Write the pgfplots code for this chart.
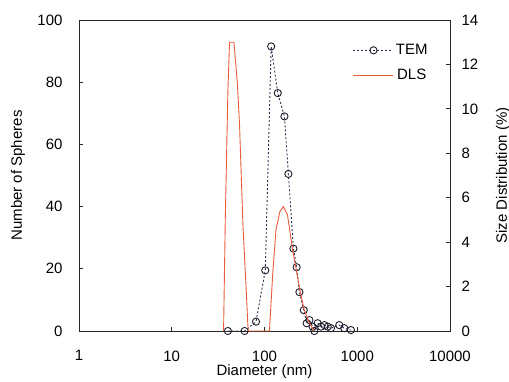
\documentclass[border=0pt]{standalone}
\usepackage{fontspec}
\setmainfont{Liberation Sans}
\usepackage{pgfplots}
\pgfplotsset{compat=1.18}
\definecolor{dls}{RGB}{232,92,60}
\definecolor{tem}{RGB}{40,48,80}
\definecolor{temmark}{RGB}{30,30,45}
\newcommand{\fs}{\fontsize{15}{18}\selectfont}
\begin{document}
\begin{tikzpicture}
\path[use as bounding box] (-79pt,-50pt) rectangle (430pt,331pt);
\begin{axis}[
  scale only axis, width=371pt, height=311pt,
  xmode=log, xmin=1, xmax=10000, ymin=0, ymax=100,
  xtick={1,10,100,1000,10000}, xticklabels={1,10,100,1000,10000}, xminorticks=false,
  ytick={0,20,...,100},
  ytick pos=left, xtick pos=bottom, tick align=inside,
  major tick length=4pt,
  axis line style={black!85, line width=0.8pt},
  tick style={black!85, line width=0.8pt},
  /pgf/number format/assume math mode=true,
  tick label style={font=\fs},
  yticklabel style={xshift=-13pt},
  xticklabel style={yshift=-16pt},
  xlabel={Diameter (nm)}, ylabel={Number of Spheres},
  xlabel style={font=\fs, at={(axis description cs:0.5,0)}, anchor=center, yshift=-41pt},
  ylabel style={font=\fs, at={(axis description cs:0,0.5)}, anchor=center, yshift=61pt},
]
\addplot[color=tem, dash pattern=on 2pt off 2pt, line width=0.9pt, mark=o, mark size=3.6pt, mark options={solid, draw=temmark, line width=0.9pt}] table {
x y
40.3 0
61 0
81 3
102 19.5
118 91.5
139 76.5
164 69
181 50.5
205 26.5
222 20.5
238 12.5
265 6.7
285 2.5
305 3.5
330 1.4
345 0
374 2.5
407 1.4
442 1.9
480 1.4
521 0.9
640 1.9
724 0.9
855 0.3
};
\end{axis}
\begin{axis}[
  scale only axis, width=371pt, height=311pt,
  xmode=log, xmin=1, xmax=10000, ymin=0, ymax=14,
  axis x line=none, axis y line*=right,
  ytick={0,2,...,14}, tick align=inside, major tick length=4pt,
  axis line style={black!85, line width=0.8pt},
  tick style={black!85, line width=0.8pt},
  /pgf/number format/assume math mode=true,
  tick label style={font=\fs},
  yticklabel style={xshift=8pt},
  ylabel={Size Distribution (\%)},
  ylabel style={font=\fs, at={(axis description cs:1,0.5)}, anchor=center, rotate=0, yshift=-53pt},
  legend style={font=\fs, draw=none, fill=none, at={(rel axis cs:0.73,0.935)}, anchor=north west, row sep=9pt},
  legend image code/.code={\draw[mark repeat=2,mark phase=2,#1] plot coordinates {(0pt,0pt) (20pt,0pt) (40pt,0pt)};},
]
\addlegendimage{color=tem, dash pattern=on 2pt off 2pt, line width=0.9pt, mark=o, mark size=3.6pt, mark options={solid, draw=temmark, line width=0.9pt}}
\addlegendentry{TEM}
\addplot[color=dls, line width=0.9pt] table {
x y
36.2 0
37.8 5.1
40.3 10.8
42.0 13.0
46.8 13.0
50.9 11.2
53.8 9.3
58.5 4.8
63.6 1.8
66.1 0.3
67 0
113 0
122.8 2.6
133 4.55
146.5 5.37
160 5.6
177 5.22
201 3.65
218 2.84
245 1.7
268 0.95
305 0.35
344 0
};
\addlegendentry{DLS}
\end{axis}
\end{tikzpicture}
\end{document}
